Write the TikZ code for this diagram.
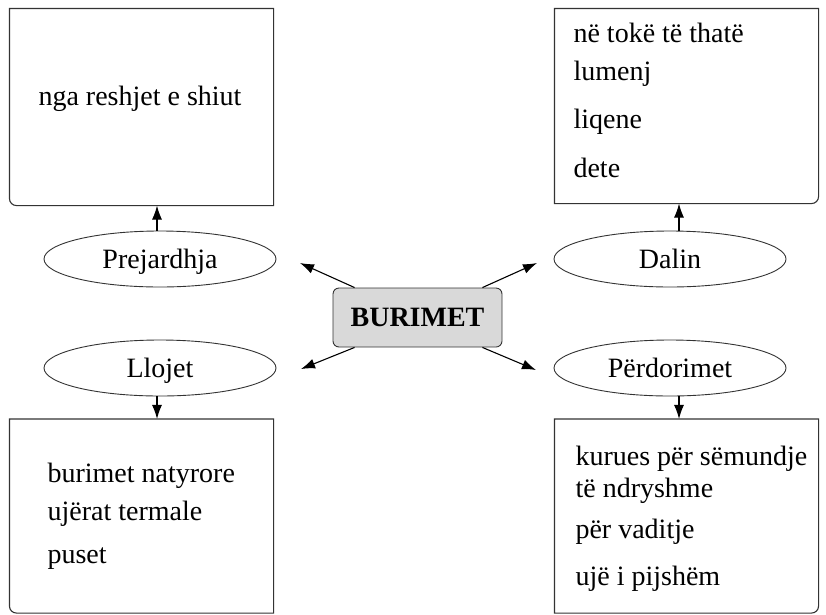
\documentclass[tikz,border=0pt]{standalone}
\usepackage{fontspec}
\setmainfont{Liberation Serif}
\usetikzlibrary{shapes.geometric,arrows.meta}

\tikzset{
	oval/.style={draw=black!80, line width=0.9pt, ellipse, minimum width=232pt, minimum height=56pt, inner sep=0pt, text height=18.5pt, text depth=0pt},
	panel/.style={rectangle, minimum width=263pt, inner sep=0pt},
	item/.style={anchor=base west, inner sep=0pt},
}

\begin{document}
\begin{tikzpicture}[x=1pt, y=-1pt, >={Latex[length=14pt,width=10pt]}, line width=1.1pt, font=\fontsize{28}{32}\selectfont]
	\useasboundingbox (0,0) rectangle (826,614);
	\node [panel, minimum height=196pt] (origbox) at (141.5,107) {};
	\node [panel, minimum height=194pt] (flowbox) at (686.5,106) {};
	\node [panel, minimum height=193pt] (kindbox) at (141.5,516) {};
	\node [panel, minimum height=193pt] (usebox) at (686.5,516) {};
	\begin{scope}[draw=black!80]
		\draw (origbox.north east) -- (origbox.north west) -- ([yshift=7pt]origbox.south west) arc [start angle=180, end angle=270, radius=7pt] -- (origbox.south east) -- cycle;
		\draw (kindbox.north east) -- (kindbox.north west) -- ([yshift=7pt]kindbox.south west) arc [start angle=180, end angle=270, radius=7pt] -- (kindbox.south east) -- cycle;
		\draw (flowbox.north west) -- (flowbox.north east) -- ([yshift=7pt]flowbox.south east) arc [start angle=0, end angle=-90, radius=7pt] -- (flowbox.south west) -- cycle;
		\draw (usebox.north west) -- (usebox.north east) -- ([yshift=7pt]usebox.south east) arc [start angle=0, end angle=-90, radius=7pt] -- (usebox.south west) -- cycle;
	\end{scope}
	\node [item] (orig1) at (38,105) {nga reshjet e shiut};
	\foreach \txt/\y [count=\i] in {në tokë të thatë/42, lumenj/80, liqene/128, dete/177}
		\node [item] (flow\i) at (573,\y) {\txt};
	\foreach \txt/\y [count=\i] in {burimet natyrore/482, ujërat termale/520, puset/563}
		\node [item] (kind\i) at (47,\y) {\txt};
	\foreach \txt/\y [count=\i] in {kurues për sëmundje/465, të ndryshme/497, për vaditje/538, ujë i pijshëm/585}
		\node [item] (use\i) at (575,\y) {\txt};
	\node [oval] (orig) at (160,259) {Prejardhja};
	\node [oval] (flow) at (670,259) {Dalin};
	\node [oval] (kind) at (160,368) {Llojet};
	\node [oval] (use) at (670,368) {Përdorimet};
	\node [draw=black!80, line width=0.9pt, fill=black!15, rounded corners=6pt, minimum width=169pt, minimum height=59pt, font=\fontsize{28}{32}\selectfont\bfseries] (src) at (417.5,317.5) {BURIMET};
	\coordinate (nw) at (300,263);
	\coordinate (ne) at (537,263);
	\coordinate (sw) at (301,369);
	\coordinate (se) at (536,370);
	\draw [->] ([xshift=22pt]src.north west) -- (nw);
	\draw [->] ([xshift=-20pt]src.north east) -- (ne);
	\draw [->] ([xshift=22pt]src.south west) -- (sw);
	\draw [->] ([xshift=-20pt]src.south east) -- (se);
	\draw [->] ([xshift=-3pt]orig.north) -- ([xshift=-3pt]orig.north |- origbox.south);
	\draw [->] ([xshift=9pt]flow.north) -- ([xshift=9pt]flow.north |- flowbox.south);
	\draw [->] ([xshift=-3pt]kind.south) -- ([xshift=-3pt]kind.south |- kindbox.north);
	\draw [->] ([xshift=9pt]use.south) -- ([xshift=9pt]use.south |- usebox.north);
\end{tikzpicture}
\end{document}
